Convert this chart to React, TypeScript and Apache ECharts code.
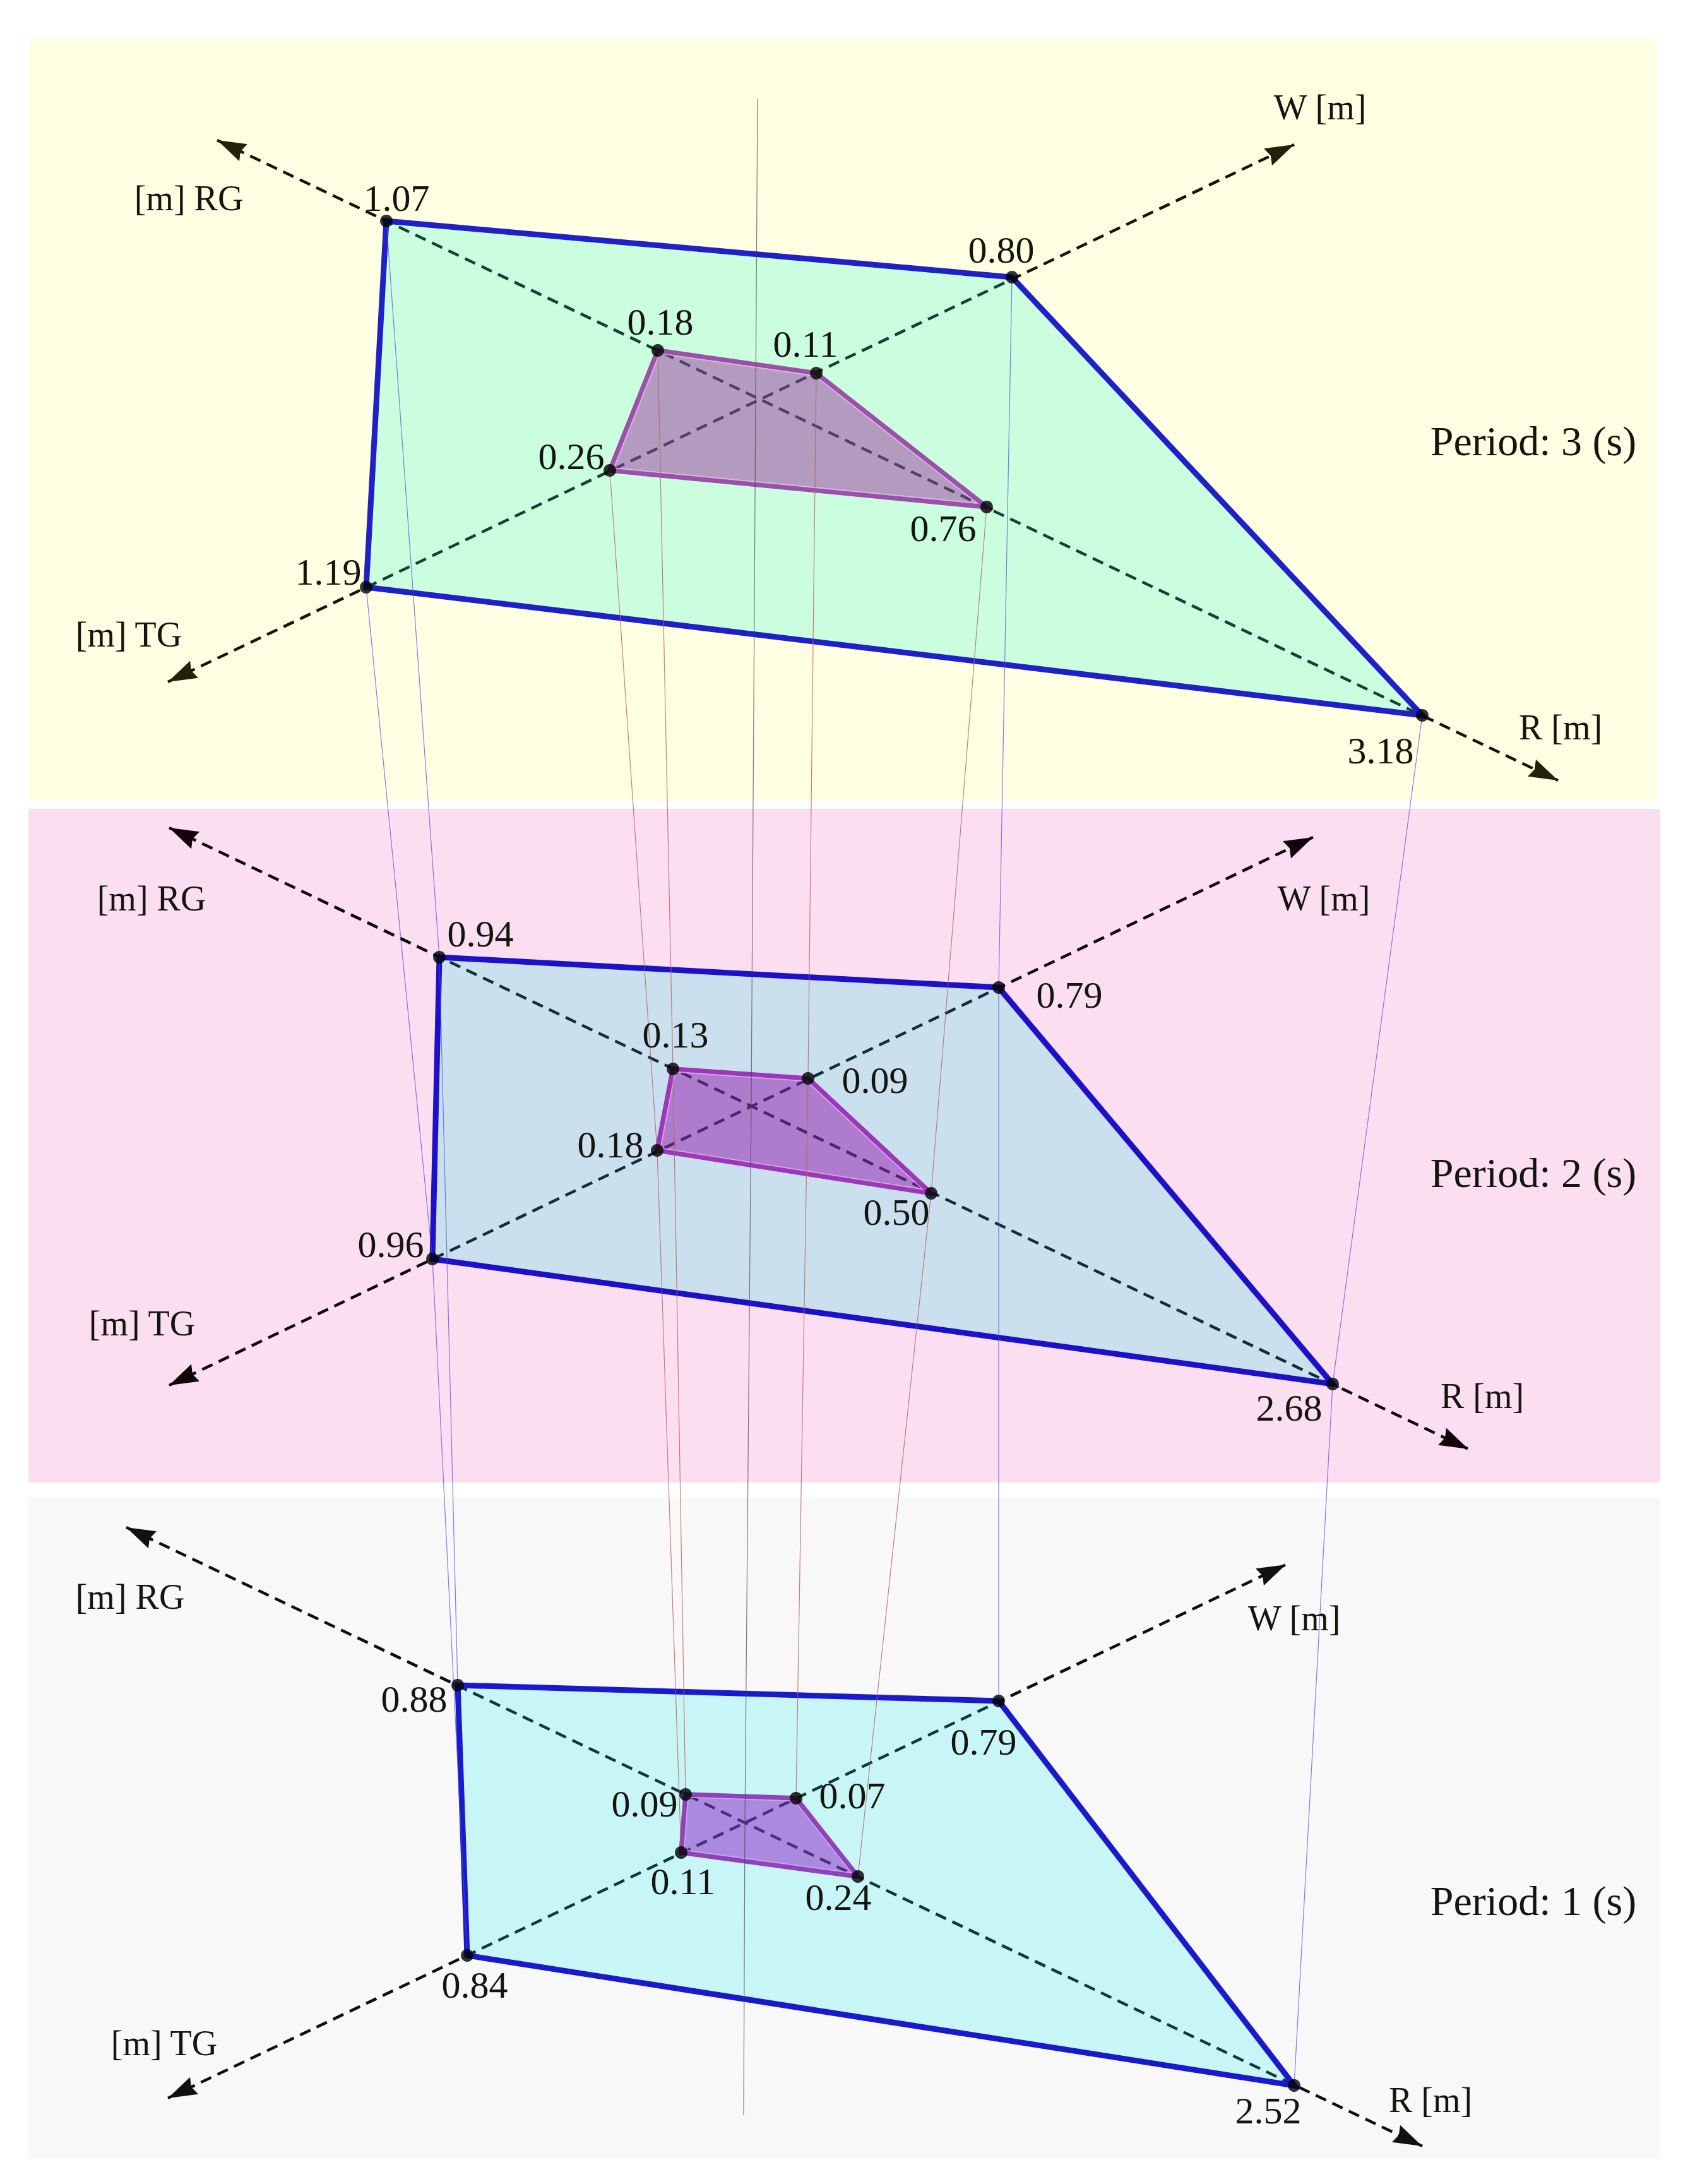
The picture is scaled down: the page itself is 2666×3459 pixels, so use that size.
import React, { useEffect, useRef } from "react";
import * as echarts from "echarts";

type P = [number, number];

// Every position below is in the figure's own data space.
// Vertex order on each polygon: RG, W, R, TG.
const p3Outer: P[] = [[612, 350], [1603, 439], [2253, 1133], [580, 930]];
const p3Inner: P[] = [[1042, 555], [1293, 591], [1563, 803], [966, 745]];
const p2Outer: P[] = [[696, 1516], [1582, 1564], [2111, 2192], [685, 1994]];
const p2Inner: P[] = [[1066, 1693], [1280, 1708], [1475, 1890], [1041, 1822]];
const p1Outer: P[] = [[725, 2669], [1582, 2694], [2050, 3303], [740, 3097]];
const p1Inner: P[] = [[1086, 2842], [1261, 2848], [1359, 2972], [1079, 2934]];

const p3AxisRG_R: P[] = [[344, 222], [2468, 1236]];
const p3AxisTG_W: P[] = [[266, 1080], [2050, 229]];
const p2AxisRG_R: P[] = [[268, 1311], [2326, 2295]];
const p2AxisTG_W: P[] = [[268, 2194], [2080, 1326]];
const p1AxisRG_R: P[] = [[200, 2419], [2253, 3399]];
const p1AxisTG_W: P[] = [[266, 3323], [2037, 2478]];

const centerLine: P[] = [[1200, 156], [1190, 1752], [1180, 2886], [1178, 3350]];

const bandExtents: [P, P][] = [
  [[47, 60], [2625, 1268]],
  [[45, 1281], [2630, 2348]],
  [[45, 2372], [2630, 3419]],
];

const valueLabels: string[] = [
  "1.07", "0.80", "3.18", "1.19", "0.18", "0.11", "0.76", "0.26",
  "0.94", "0.79", "2.68", "0.96", "0.13", "0.09", "0.50", "0.18",
  "0.88", "0.79", "2.52", "0.84", "0.09", "0.07", "0.24", "0.11",
];
const valueLabelAt: P[] = [
  [628, 314], [1586, 396], [2187, 1189], [520, 906], [1046, 510], [1276, 545], [1494, 837], [905, 723],
  [761, 1479], [1694, 1576], [2042, 2230], [619, 1971], [1070, 1639], [1386, 1711], [1420, 1920], [967, 1813],
  [656, 2691], [1558, 2759], [2009, 3343], [752, 3144], [1021, 2857], [1350, 2844], [1328, 3005], [1082, 2980],
];

const axisNames: string[] = [
  "[m] RG", "[m] TG", "W [m]", "R [m]",
  "[m] RG", "[m] TG", "W [m]", "R [m]",
  "[m] RG", "[m] TG", "W [m]", "R [m]",
];
const axisNameAt: P[] = [
  [299, 314], [204, 1005], [2091, 170], [2472, 1152],
  [240, 1423], [225, 2096], [2097, 1423], [2348, 2211],
  [206, 2529], [260, 3236], [2050, 2563], [2266, 3326],
];

const periodLabels: string[] = ["Period: 3 (s)", "Period: 2 (s)", "Period: 1 (s)"];
const periodLabelAt: P[] = [[2429, 698], [2429, 1857], [2429, 3010]];

const FONT = '"Liberation Serif", serif';
const WIDTH = 2666;
const HEIGHT = 3459;

function polygonSeries(points: P[], fill: string, stroke: string | null, lineWidth: number, z: number) {
  return {
    type: "custom",
    coordinateSystem: "cartesian2d",
    clip: false,
    silent: true,
    z,
    data: [points[0]],
    encode: { x: 0, y: 1 },
    renderItem: (_p: any, api: any) => ({
      type: "polygon",
      shape: { points: points.map((q) => api.coord(q)) },
      style: { fill, stroke: stroke ?? "none", lineWidth: stroke ? lineWidth : 0, lineJoin: "miter" },
    }),
  };
}

// Thin pale edge just inside a polygon's stroke.
function insetEdgeSeries(points: P[], color: string, inset: number, z: number) {
  return {
    type: "custom",
    coordinateSystem: "cartesian2d",
    clip: false,
    silent: true,
    z,
    data: [points[0]],
    encode: { x: 0, y: 1 },
    renderItem: (_p: any, api: any) => {
      const px: number[][] = points.map((q) => api.coord(q));
      const n = px.length;
      const normal = (a: number[], b: number[]) => {
        const dx = b[0] - a[0];
        const dy = b[1] - a[1];
        const l = Math.hypot(dx, dy);
        return [-dy / l, dx / l];
      };
      const shifted = px.map((v, i) => {
        const n1 = normal(px[(i + n - 1) % n], v);
        const n2 = normal(v, px[(i + 1) % n]);
        const k = inset / (1 + n1[0] * n2[0] + n1[1] * n2[1]);
        return [v[0] + (n1[0] + n2[0]) * k, v[1] + (n1[1] + n2[1]) * k];
      });
      return {
        type: "polygon",
        shape: { points: shifted },
        style: { fill: "none", stroke: color, lineWidth: 1.8 },
      };
    },
  };
}

function bandSeries(extent: [P, P], fill: string) {
  const [a, b] = extent;
  const corners: P[] = [a, [b[0], a[1]], b, [a[0], b[1]]];
  return polygonSeries(corners, fill, null, 0, 1);
}

function lineSeries(points: P[], color: string, width: number, z: number, dash?: number[], opacity = 1) {
  return {
    type: "line",
    data: points,
    symbol: "none",
    silent: true,
    clip: false,
    z,
    lineStyle: { color, width, opacity, type: dash ?? "solid", cap: "butt" },
  };
}

function arrowSeries(axis: P[], color: string) {
  const heads: [P, P][] = [
    [axis[0], axis[1]],
    [axis[1], axis[0]],
  ];
  return {
    type: "custom",
    coordinateSystem: "cartesian2d",
    clip: false,
    silent: true,
    z: 4,
    data: heads.map((h) => h[0]),
    encode: { x: 0, y: 1 },
    renderItem: (p: any, api: any) => {
      const [tipData, fromData] = heads[p.dataIndex];
      const tip = api.coord(tipData);
      const from = api.coord(fromData);
      const dx = from[0] - tip[0];
      const dy = from[1] - tip[1];
      const len = Math.hypot(dx, dy);
      const ux = dx / len;
      const uy = dy / len;
      const pt = (along: number, across: number) => [
        tip[0] + ux * along - uy * across,
        tip[1] + uy * along + ux * across,
      ];
      return {
        type: "polygon",
        shape: { points: [pt(0, 0), pt(46, 15), pt(41, 0), pt(46, -15)] },
        style: { fill: color },
      };
    },
  };
}

function textSeries(texts: string[], at: P[], fontSize: number, z: number) {
  return {
    type: "custom",
    coordinateSystem: "cartesian2d",
    clip: false,
    silent: true,
    z,
    data: at,
    encode: { x: 0, y: 1 },
    renderItem: (p: any, api: any) => {
      const c = api.coord(at[p.dataIndex]);
      return {
        type: "text",
        x: c[0],
        y: c[1],
        style: {
          text: texts[p.dataIndex],
          fontFamily: FONT,
          fontSize,
          fill: "#15150f",
          align: "center",
          verticalAlign: "middle",
        },
      };
    },
  };
}

function connector(i: number, polys: P[][]): P[] {
  return polys.map((poly) => poly[i]);
}

function buildOption() {
  const outers = [p3Outer, p2Outer, p1Outer];
  const inners = [p3Inner, p2Inner, p1Inner];
  const allVertices = [...p3Outer, ...p3Inner, ...p2Outer, ...p2Inner, ...p1Outer, ...p1Inner];
  const dash = [18, 11];
  return {
    animation: false,
    backgroundColor: "#ffffff",
    grid: { left: 0, right: 0, top: 0, bottom: 0, containLabel: false },
    xAxis: { type: "value", min: 0, max: WIDTH, show: false },
    yAxis: { type: "value", min: 0, max: HEIGHT, inverse: true, show: false },
    series: [
      bandSeries(bandExtents[0], "#fefee2"),
      bandSeries(bandExtents[1], "#fbdff0"),
      bandSeries(bandExtents[2], "#f8f8f8"),

      lineSeries(p3AxisRG_R, "#14140a", 4.5, 2, dash),
      lineSeries(p3AxisTG_W, "#14140a", 4.5, 2, dash),
      lineSeries(p2AxisRG_R, "#0d0208", 4.5, 2, dash),
      lineSeries(p2AxisTG_W, "#0d0208", 4.5, 2, dash),
      lineSeries(p1AxisRG_R, "#0d0d0d", 4.5, 2, dash),
      lineSeries(p1AxisTG_W, "#0d0d0d", 4.5, 2, dash),

      arrowSeries(p3AxisRG_R, "#22220a"),
      arrowSeries(p3AxisTG_W, "#22220a"),
      arrowSeries(p2AxisRG_R, "#14020c"),
      arrowSeries(p2AxisTG_W, "#14020c"),
      arrowSeries(p1AxisRG_R, "#111111"),
      arrowSeries(p1AxisTG_W, "#111111"),

      polygonSeries(p3Outer, "rgba(0,255,210,0.2)", "#2020c8", 9, 5),
      polygonSeries(p2Outer, "rgba(15,230,235,0.2)", "#1c10c8", 9, 5),
      polygonSeries(p1Outer, "rgba(10,240,245,0.2)", "#1a1acc", 9, 5),

      polygonSeries(p3Inner, "rgba(154,55,160,0.5)", "#9a52a8", 7.5, 6),
      polygonSeries(p2Inner, "rgba(146,24,170,0.5)", "#9a38b8", 7.5, 6),
      polygonSeries(p1Inner, "rgba(138,30,198,0.5)", "#8e44b8", 7.5, 6),

      insetEdgeSeries(p3Inner, "rgba(240,190,245,0.75)", 4.5, 6),
      insetEdgeSeries(p2Inner, "rgba(235,175,245,0.75)", 4.5, 6),
      insetEdgeSeries(p1Inner, "rgba(225,165,250,0.75)", 4.5, 6),

      ...[0, 1, 2, 3].map((i) => lineSeries(connector(i, outers), "#4a4ad8", 1.2, 7, undefined, 0.7)),
      ...[0, 1, 2, 3].map((i) => lineSeries(connector(i, inners), "#b86060", 1.2, 7, undefined, 0.8)),
      lineSeries(centerLine, "#444444", 1.2, 7, undefined, 0.7),

      {
        type: "scatter",
        data: allVertices,
        symbol: "circle",
        symbolSize: 20,
        silent: true,
        z: 8,
        itemStyle: { color: "#000000" },
      },

      textSeries(valueLabels, valueLabelAt, 60, 9),
      textSeries(axisNames, axisNameAt, 56, 9),
      textSeries(periodLabels, periodLabelAt, 66, 9),
    ],
  };
}

export default function App() {
  const ref = useRef<HTMLDivElement>(null);
  useEffect(() => {
    if (!ref.current) return;
    const chart = echarts.init(ref.current, undefined, { renderer: "svg", width: WIDTH, height: HEIGHT });
    chart.setOption(buildOption() as any);
    return () => chart.dispose();
  }, []);
  return (
    <div
      ref={ref}
      style={{ position: "absolute", left: 0, top: 0, width: WIDTH, height: HEIGHT }}
    />
  );
}
